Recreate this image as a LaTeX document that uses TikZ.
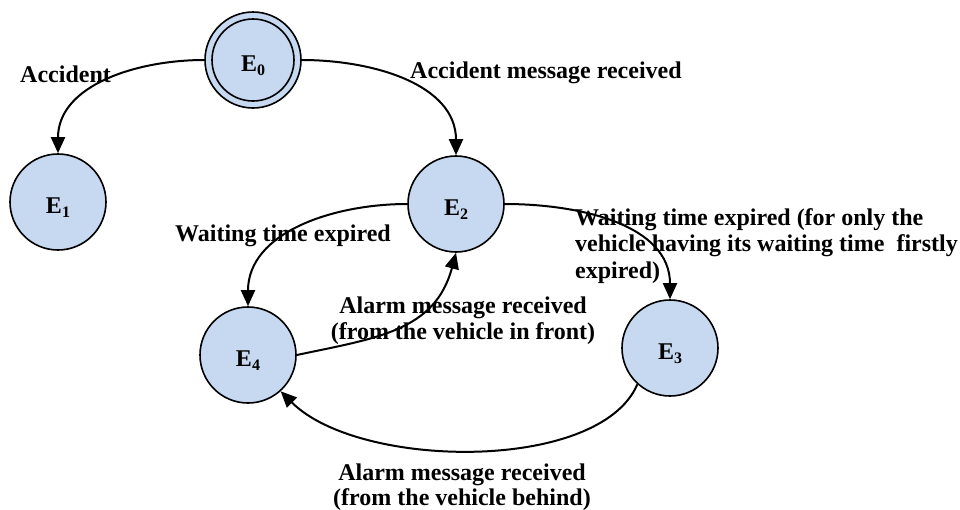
\documentclass[tikz,border=0pt]{standalone}
\usepackage{fontspec}
\setmainfont{Liberation Serif}
\usetikzlibrary{arrows.meta}
\definecolor{nodefill}{HTML}{C6D9F1}
\newcommand\slabel[1]{\raisebox{-11.5pt}[0pt][0pt]{\fontsize{24}{24}\selectfont\bfseries E\raisebox{-4pt}{\fontsize{16}{16}\selectfont #1}}}
\begin{document}
\begin{tikzpicture}[x=1pt,y=1pt,
  state/.style={circle,draw=black,line width=1.6pt,fill=nodefill,minimum size=96pt,inner sep=0pt},
  conn/.style={line width=2pt,-{Triangle[length=16pt,width=14pt]}},
  lbl/.style={font=\fontsize{24}{26.5}\selectfont\bfseries,inner sep=0pt}
]
\useasboundingbox (0,0) rectangle (960,-509);

\node[state] (E0) at (253,-60) {\slabel{0}};
\draw[line width=1.6pt] (E0.center) circle (41pt);
\node[state] (E1) at (58,-202) {\slabel{1}};
\node[state] (E2) at (456,-204) {\slabel{2}};
\node[state] (E3) at (670,-348) {\slabel{3}};
\node[state] (E4) at (248,-355) {\slabel{4}};

\draw[conn] (E0.west) to[out=180,in=90] (E1.north);
\draw[conn] (E0.east) to[out=0,in=90] (E2.north);
\draw[conn] (E2.west) to[out=180,in=90] (E4.north);
\draw[conn] (E4.east) to[out=12,in=255,looseness=1.1] (E2.south);
\draw[conn] (E2.east) to[out=0,in=90] (E3.north);
\draw[conn] (E3.228) to[out=247,in=-45,out distance=96pt,in distance=111pt] (E4.-48);

\node[lbl,anchor=base west] (l01) at (20,-82) {Accident};
\node[lbl,anchor=base west] (l02) at (410,-78) {Accident message received};
\node[lbl,anchor=base west] (l24) at (175,-241) {Waiting time expired};
\node[lbl,anchor=base west] (l23) at (575,-225) {\begin{tabular}[t]{@{}l@{}}Waiting time expired (for only the\\ vehicle having its waiting time~ firstly\\ expired)\end{tabular}};
\node[lbl,anchor=base] (l42) at (463,-313) {\begin{tabular}[t]{@{}c@{}}Alarm message received\\ (from the vehicle in front)\end{tabular}};
\node[lbl,anchor=base] (l34) at (462,-480) {\fontsize{24}{25}\selectfont\begin{tabular}[t]{@{}c@{}}Alarm message received\\ (from the vehicle behind)\end{tabular}};
\end{tikzpicture}
\end{document}
